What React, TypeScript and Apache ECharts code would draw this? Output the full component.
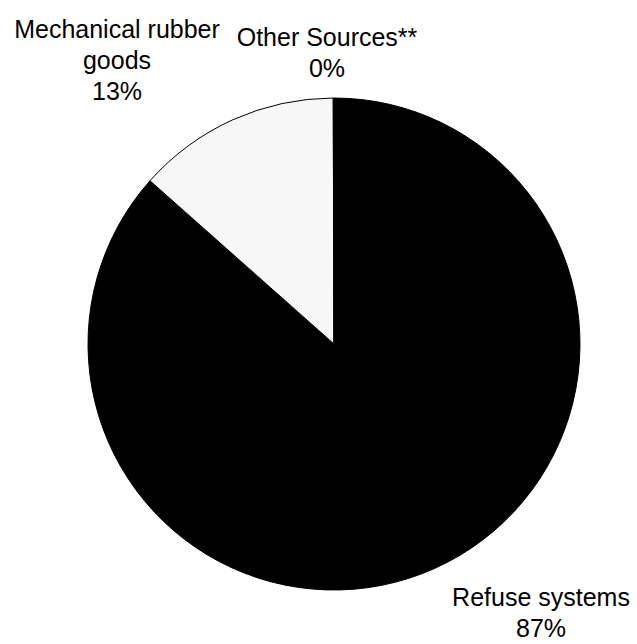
import React, { useEffect, useRef } from "react";
import * as echarts from "echarts";

const categories = ["Refuse systems", "Mechanical rubber\ngoods", "Other Sources**"];
const values = [86.55, 13.4, 0.05];
const colors = ["#000000", "#f7f7f7", "#404040"];

// label anchor points (px), by slice index
const labelPos = [
  [541, 612],
  [117, 60],
  [327, 52],
];

export default function App() {
  const ref = useRef<HTMLDivElement>(null);
  useEffect(() => {
    if (!ref.current) return;
    const chart = echarts.init(ref.current, null, { renderer: "svg" });
    chart.setOption({
      animation: false,
      backgroundColor: "#ffffff",
      series: [
        {
          type: "pie",
          center: [334, 344],
          radius: 246,
          startAngle: 90,
          clockwise: true,
          percentPrecision: 0,
          avoidLabelOverlap: false,
          data: categories.map((name, i) => ({
            name,
            value: values[i],
            itemStyle: { color: colors[i] },
          })),
          itemStyle: { borderColor: "#000000", borderWidth: 1 },
          label: {
            show: true,
            position: "outside",
            formatter: "{b}\n{d}%",
            fontFamily: "Liberation Sans, Arial, sans-serif",
            fontSize: 25,
            lineHeight: 31,
            color: "#000000",
            align: "center",
          },
          labelLine: { show: false },
          labelLayout: (params: any) => {
            const p = labelPos[params.dataIndex];
            return { x: p[0], y: p[1], align: "center", verticalAlign: "middle" };
          },
          emphasis: { disabled: true },
        },
      ],
    });
    return () => chart.dispose();
  }, []);
  return (
    <div
      ref={ref}
      style={{ position: "fixed", left: 0, top: 0, width: 637, height: 644 }}
    />
  );
}
